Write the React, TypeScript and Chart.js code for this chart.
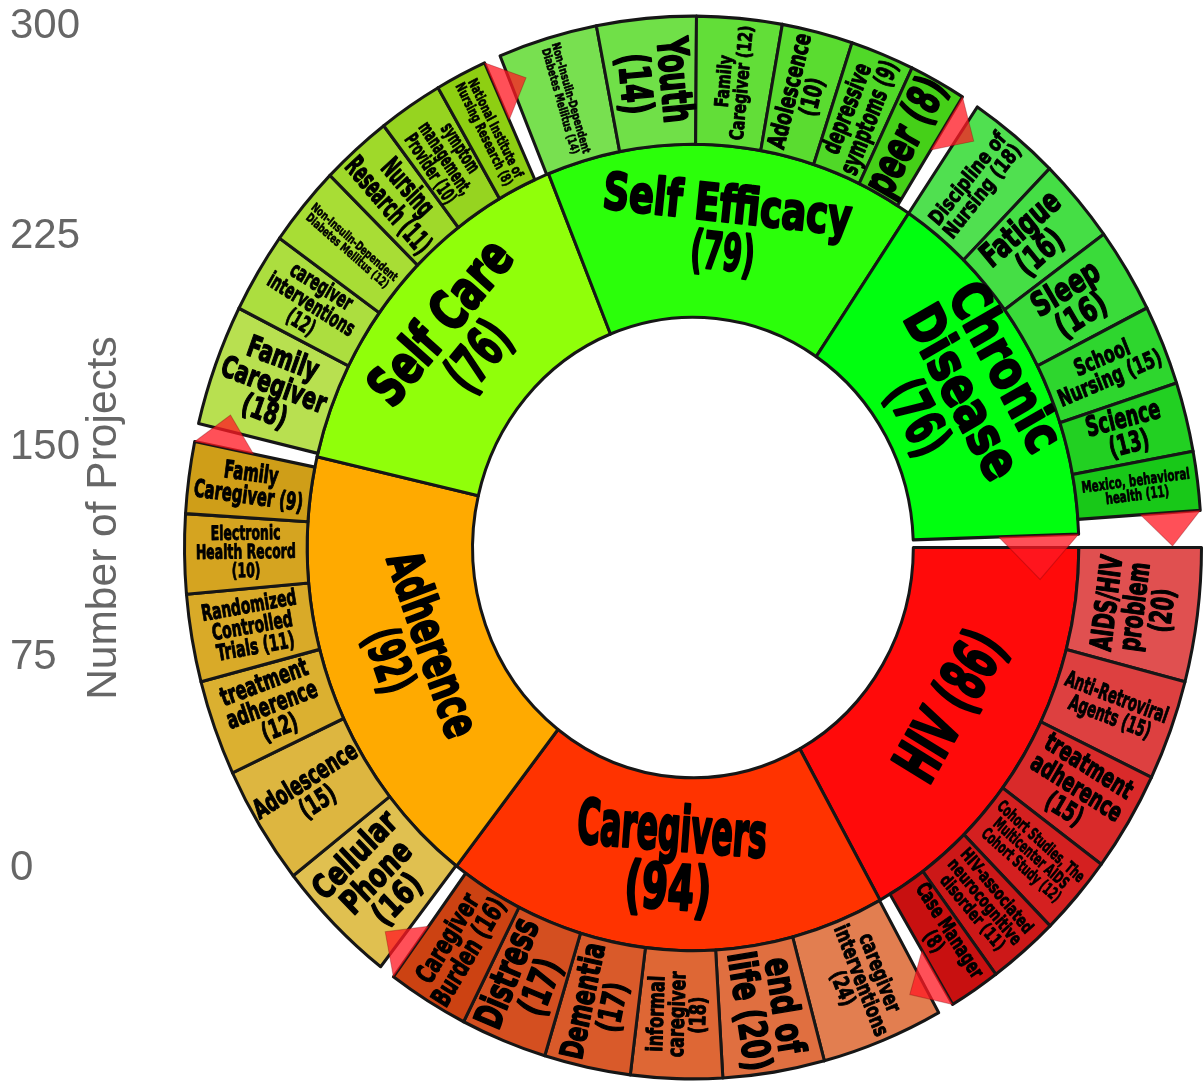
import React, { useEffect, useRef } from "react";
import { Chart, registerables } from "chart.js";

Chart.register(...registerables);

// ---------- data ----------
const groupNames = ["HIV (86)", "Caregivers\n(94)", "Adherence\n(92)", "Self Care\n(76)", "Self Efficacy\n(79)", "Chronic\nDisease\n(76)"];
const groupValues = [86, 94, 92, 76, 79, 76];
const innerSweeps = [61, 66.8, 65.2, 55, 56, 54.1];
const innerGap = 1.9;
const outerSweeps = [59.3, 65, 63.6, 52.3, 54.3, 52];
const outerGaps = [1.8, 1.8, 2, 1.9, 2, 4];

const hivValues = [20, 15, 15, 12, 11, 8];
const caregiverValues = [24, 20, 18, 17, 17, 16];
const adherenceValues = [16, 15, 12, 11, 10, 9];
const selfCareValues = [18, 12, 12, 11, 10, 8];
const selfEfficacyValues = [14, 14, 12, 10, 9, 8];
const chronicValues = [18, 16, 16, 15, 13, 11];
const outerValues = [hivValues, caregiverValues, adherenceValues, selfCareValues, selfEfficacyValues, chronicValues];

const hivLabels = ["AIDS/HIV\nproblem\n(20)", "Anti-Retroviral\nAgents (15)", "treatment\nadherence\n(15)", "Cohort Studies, The\nMulticenter AIDS\nCohort Study (12)", "HIV-associated\nneurocognitive\ndisorder (11)", "Case Manager\n(8)"];
const caregiverLabels = ["caregiver\ninterventions\n(24)", "end of\nlife (20)", "informal\ncaregiver\n(18)", "Dementia\n(17)", "Distress\n(17)", "Caregiver\nBurden (16)"];
const adherenceLabels = ["Cellular\nPhone\n(16)", "Adolescence\n(15)", "treatment\nadherence\n(12)", "Randomized\nControlled\nTrials (11)", "Electronic\nHealth Record\n(10)", "Family\nCaregiver (9)"];
const selfCareLabels = ["Family\nCaregiver\n(18)", "caregiver\ninterventions\n(12)", "Non-Insulin-Dependent\nDiabetes Mellitus (12)", "Nursing\nResearch (11)", "symptom\nmanagement,\nProvider (10)", "National Institute of\nNursing Research (8)"];
const selfEfficacyLabels = ["Non-Insulin-Dependent\nDiabetes Mellitus (14)", "Youth\n(14)", "Family\nCaregiver (12)", "Adolescence\n(10)", "depressive\nsymptoms (9)", "peer (8)"];
const chronicLabels = ["Discipline of\nNursing (18)", "Fatigue\n(16)", "Sleep\n(16)", "School\nNursing (15)", "Science\n(13)", "Mexico, behavioral\nhealth (11)"];
const outerLabels = [hivLabels, caregiverLabels, adherenceLabels, selfCareLabels, selfEfficacyLabels, chronicLabels];

const axisTicks = [0, 75, 150, 225, 300];
const axisTitle = "Number of Projects";

// ---------- styles ----------
const innerColors = ["#ff0a0a", "#ff3300", "#ffaa00", "#90ff0a", "#2bff0a", "#00ff0f"];
const outerColors = [
  ["#e05050", "#dd4040", "#d92a2a", "#d42020", "#cc1818", "#c81010"],
  ["#e27e50", "#e06f40", "#de6735", "#d95a2a", "#d44f20", "#cc4212"],
  ["#e0c050", "#ddb640", "#dbb030", "#d9aa28", "#d5a420", "#cf9e18"],
  ["#b8e050", "#acde3f", "#a8dd35", "#9fd92a", "#96d420", "#8ecf12"],
  ["#78e050", "#70e048", "#62de38", "#5adc30", "#50d828", "#45d018"],
  ["#50e050", "#45de45", "#3adb3a", "#2ed62e", "#22d022", "#18c818"],
];
const innerFont = [[58, 155], [56, 190], [46, 185], [50, 190], [46, 250], [50, 182]];
const innerValueLineScale = [1, 1.2, 0.88, 0.82, 0.76, 0.78];
const outerFont = [
  [[28, 92], [20, 108], [24, 102], [15, 110], [16, 103], [19, 105]],
  [[20, 113], [36, 115], [21, 82], [30, 113], [36, 110], [25, 117]],
  [[30, 105], [24, 117], [23, 95], [20, 96], [18, 100], [22, 110]],
  [[27, 110], [20, 98], [11, 109], [26, 114], [18, 80], [13, 109]],
  [[11, 110], [40, 82], [18, 110], [23, 113], [24, 115], [42, 122]],
  [[19, 110], [30, 94], [30, 74], [21, 110], [25, 76], [14, 109]],
];
const tangentOuter = new Set(["0-0"]);
const edge = "#161616";
const stretchY = 1.045;
const markerFill = "rgba(255,25,35,0.76)";
const axisColor = "#666666";

function drawLabel(ctx: CanvasRenderingContext2D, text: string, x: number, y: number, rot: number, size: number, width: number, lastLineScale = 1) {
  const lines = text.split("\n");
  ctx.save();
  ctx.translate(x, y);
  ctx.rotate((rot * Math.PI) / 180);
  ctx.font = `bold ${size * 1.06}px "DejaVu Sans"`;
  ctx.textAlign = "center";
  ctx.textBaseline = "middle";
  const longest = Math.max(...lines.map((l) => ctx.measureText(l).width));
  ctx.scale(width / longest, 1);
  ctx.fillStyle = "#000";
  ctx.strokeStyle = "#000";
  ctx.lineJoin = "round";
  ctx.lineWidth = size * 0.05;
  lines.forEach((l, i) => {
    const yy = (i - (lines.length - 1) / 2) * size;
    ctx.save();
    if (i === lines.length - 1) ctx.scale(lastLineScale, 1);
    ctx.fillText(l, 0, yy);
    ctx.strokeText(l, 0, yy);
    ctx.restore();
  });
  ctx.restore();
}

function drawMarker(ctx: CanvasRenderingContext2D, arc: any, base: number, height: number) {
  const a = arc.endAngle;
  const r = arc.outerRadius;
  const p1 = [arc.x + r * Math.cos(a), arc.y + r * Math.sin(a)];
  const p2 = [arc.x + (r - base) * Math.cos(a), arc.y + (r - base) * Math.sin(a)];
  const mx = (p1[0] + p2[0]) / 2;
  const my = (p1[1] + p2[1]) / 2;
  ctx.beginPath();
  ctx.moveTo(p1[0], p1[1]);
  ctx.lineTo(p2[0], p2[1]);
  ctx.lineTo(mx - height * Math.sin(a), my + height * Math.cos(a));
  ctx.closePath();
  ctx.fillStyle = markerFill;
  ctx.fill();
  ctx.strokeStyle = "rgba(110,0,0,0.3)";
  ctx.lineWidth = 1;
  ctx.stroke();
}

const sunburstPlugin = {
  id: "sunburst",
  beforeDatasetsDraw(chart: any) {
    const ctx = chart.ctx;
    const arc = chart.getDatasetMeta(0).data[0];
    ctx.save();
    ctx.translate(arc.x, arc.y);
    ctx.scale(1, stretchY);
    ctx.translate(-arc.x, -arc.y);
  },
  afterDatasetsDraw(chart: any) {
    const ctx = chart.ctx;
    const outerMeta = chart.getDatasetMeta(0).data;
    const innerMeta = chart.getDatasetMeta(1).data;
    const fromTop = (a: number) => (((a * 180) / Math.PI + 90) % 360 + 360) % 360;

    groupNames.forEach((name, g) => {
      const arc = innerMeta[g];
      const mid = (arc.startAngle + arc.endAngle) / 2;
      const r = (arc.innerRadius + arc.outerRadius) / 2;
      const deg = fromTop(mid);
      const rot = deg > 90 && deg < 270 ? deg - 180 : deg;
      drawLabel(ctx, name, arc.x + r * Math.cos(mid), arc.y + r * Math.sin(mid), rot, innerFont[g][0], innerFont[g][1], innerValueLineScale[g]);
    });

    let idx = 0;
    outerLabels.forEach((labels, g) => {
      labels.forEach((label, i) => {
        const arc = outerMeta[idx + i];
        const mid = (arc.startAngle + arc.endAngle) / 2;
        const r = (arc.innerRadius + arc.outerRadius) / 2;
        const deg = fromTop(mid);
        let rot = deg < 180 ? deg - 90 : deg - 270;
        if (tangentOuter.has(`${g}-${i}`)) rot = deg - 180;
        drawLabel(ctx, label, arc.x + r * Math.cos(mid), arc.y + r * Math.sin(mid), rot, outerFont[g][i][0], outerFont[g][i][1]);
      });
      drawMarker(ctx, outerMeta[idx + labels.length - 1], 60, 32);
      idx += labels.length + 1;
    });
    drawMarker(ctx, innerMeta[groupNames.length - 1], 80, 42);
    ctx.restore();
  },
};

const axisTitlePlugin = {
  id: "axisTitleText",
  afterDraw(chart: any) {
    const ctx = chart.ctx;
    ctx.save();
    ctx.translate(104, 518);
    ctx.rotate(-Math.PI / 2);
    ctx.font = '42.5px "Liberation Sans"';
    ctx.fillStyle = axisColor;
    ctx.textAlign = "center";
    ctx.textBaseline = "middle";
    ctx.fillText(axisTitle, 0, 0);
    ctx.restore();
  },
};

export default function App() {
  const ringRef = useRef<HTMLCanvasElement>(null);
  const axisRef = useRef<HTMLCanvasElement>(null);

  useEffect(() => {
    const outerData: number[] = [];
    const outerFill: string[] = [];
    const outerBorder: number[] = [];
    outerValues.forEach((vals, g) => {
      const sum = vals.reduce((a, b) => a + b, 0);
      vals.forEach((v, i) => {
        outerData.push((v * outerSweeps[g]) / sum);
        outerFill.push(outerColors[g][i]);
        outerBorder.push(3);
      });
      outerData.push(outerGaps[g]);
      outerFill.push("rgba(0,0,0,0)");
      outerBorder.push(0);
    });

    const ring = new Chart(ringRef.current!, {
      type: "doughnut",
      data: {
        datasets: [
          {
            data: outerData,
            backgroundColor: outerFill,
            borderColor: edge,
            borderWidth: outerBorder,
            borderJoinStyle: "round",
            weight: 123,
            rotation: 90,
            clip: false,
          },
          {
            data: [...innerSweeps, innerGap],
            backgroundColor: [...innerColors, "rgba(0,0,0,0)"],
            borderColor: edge,
            borderWidth: [3, 3, 3, 3, 3, 3, 0],
            borderJoinStyle: "round",
            weight: 166,
            rotation: 90,
            clip: false,
          },
        ],
      } as any,
      options: {
        animation: false,
        responsive: false,
        cutout: "43.33%",
        layout: { padding: { left: 183, top: 14, right: 0, bottom: 0 } },
        plugins: { legend: { display: false }, tooltip: { enabled: false } },
      } as any,
      plugins: [sunburstPlugin],
    });

    const axis = new Chart(axisRef.current!, {
      type: "line",
      data: { labels: [], datasets: [] },
      options: {
        animation: false,
        responsive: false,
        layout: { padding: { left: 10, top: 26, bottom: 213, right: 0 } },
        plugins: { legend: { display: false }, tooltip: { enabled: false } },
        scales: {
          x: { display: false },
          y: {
            min: axisTicks[0],
            max: axisTicks[axisTicks.length - 1],
            grid: { display: false },
            border: { display: false },
            afterBuildTicks: (s: any) => {
              s.ticks = axisTicks.map((value) => ({ value }));
            },
            ticks: {
              color: axisColor,
              crossAlign: "far",
              padding: 0,
              autoSkip: false,
              font: { family: "Liberation Sans", size: 42 },
            },
          },
        },
      } as any,
      plugins: [axisTitlePlugin],
    });

    return () => {
      ring.destroy();
      axis.destroy();
    };
  }, []);

  const layer: React.CSSProperties = { position: "absolute", left: 0, top: 0, filter: "blur(0.5px)" };
  return (
    <>
      <canvas ref={axisRef} width={200} height={1081} style={layer} />
      <canvas ref={ringRef} width={1203} height={1081} style={layer} />
    </>
  );
}
